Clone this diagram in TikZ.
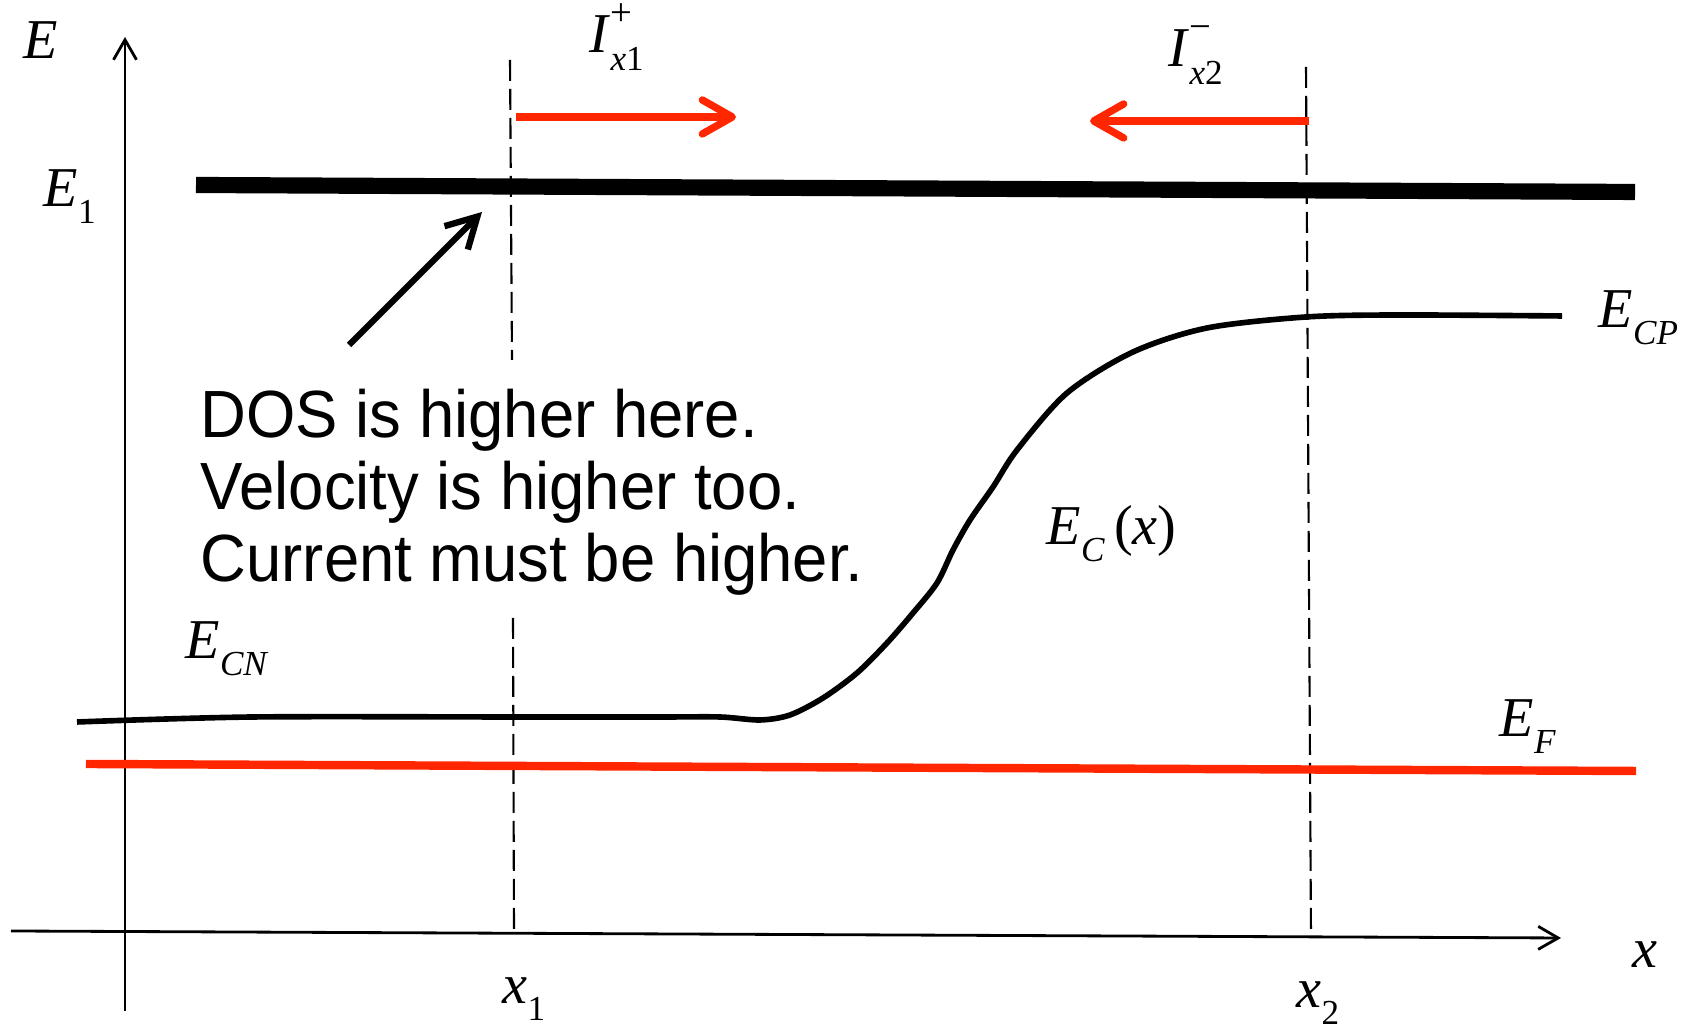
\documentclass[tikz,border=0pt]{standalone}
\usepackage{fontspec}
\setmainfont{Liberation Serif}
\setsansfont{Liberation Sans}
\newfontfamily\notefont[FakeStretch=0.95]{Liberation Sans}
\usepackage{tikz}
\usetikzlibrary{arrows.meta}
\definecolor{fluxred}{RGB}{255,38,0}
\newcommand{\lvl}[2]{\textit{#1}\raisebox{-0.17cm}{\fontsize{10}{10}\selectfont\textit{#2}}}
\newcommand{\flux}[3]{\textit{#1}\rlap{\raisebox{0.27cm}{\fontsize{11}{11}\selectfont #2}}\raisebox{-0.18cm}{\fontsize{10}{10}\selectfont\textit{#3}}}

\begin{document}
\begin{tikzpicture}[
  axisline/.style={line width=0.8pt,-{Straight Barb[length=2mm,width=2.3mm]}},
  guide/.style={line width=0.6pt,dash pattern=on 0.21cm off 0.08cm},
  fluxarrow/.style={fluxred,line width=2.1pt,-{Straight Barb[length=3mm,width=3.4mm,round]}},
  lbl/.style={inner sep=0pt,anchor=base west,font=\fontsize{16}{16}\selectfont},
  dosline/.style={inner sep=0pt,anchor=base west,font=\notefont\fontsize{19}{21}\selectfont}]
\useasboundingbox (0,0) rectangle (16.86,10.29);
% axes
\coordinate (Ebot) at (1.25,0.18);
\coordinate (Etop) at (1.25,9.92);
\coordinate (xleft) at (0.11,0.98);
\coordinate (xright) at (15.61,0.91);
\draw[axisline] (Ebot) -- (Etop);
\draw[axisline] (xleft) -- (xright);
% dashed guides at x1 and x2
\coordinate (g1top) at (5.10,9.69);
\coordinate (g1mid) at (5.12,6.69);
\coordinate (g1low) at (5.13,4.11);
\coordinate (g1bot) at (5.14,0.96);
\coordinate (g2top) at (13.06,9.62);
\coordinate (g2bot) at (13.11,0.91);
\draw[guide] (g1top) -- (g1mid) (g1low) -- (g1bot);
\draw[guide] (g2top) -- (g2bot);
% E1 level and Fermi level
\coordinate (e1left) at (1.96,8.44);
\coordinate (e1right) at (16.35,8.37);
\draw[line width=4.6pt] (e1left) -- (e1right);
\coordinate (efleft) at (0.86,2.65);
\coordinate (efright) at (16.36,2.58);
\draw[fluxred,line width=2.4pt] (efleft) -- (efright);
% conduction band edge
\draw[line width=1.6pt] plot[smooth] coordinates {(0.77,3.07) (2.53,3.12) (5.14,3.12) (6.60,3.12) (7.20,3.12) (7.60,3.09) (7.90,3.14) (8.23,3.31) (8.57,3.56) (8.87,3.86) (9.13,4.16) (9.37,4.46) (9.53,4.79) (9.70,5.09) (9.93,5.42) (10.17,5.79) (10.67,6.36) (11.33,6.77) (12.07,7.01) (13.06,7.12) (14.00,7.14) (15.62,7.13)};
% currents
\coordinate (ipstart) at (5.16,9.12);
\coordinate (ipend) at (7.36,9.12);
\coordinate (imstart) at (13.09,9.08);
\coordinate (imend) at (10.90,9.08);
\draw[fluxarrow] (ipstart) -- (ipend);
\draw[fluxarrow] (imstart) -- (imend);
% labels
\node[lbl] (Elbl) at (0.23,9.70) {\textit{E}};
\node[lbl] (E1lbl) at (0.43,8.22) {\lvl{E}{\textup{1}}};
\node[lbl] (ECPlbl) at (15.98,7.01) {\lvl{E}{CP}};
\node[lbl] (ECxlbl) at (10.46,4.84) {\lvl{E}{C}\,(\textit{x})};
\node[lbl] (ECNlbl) at (1.85,3.70) {\lvl{E}{CN}};
\node[lbl] (EFlbl) at (14.99,2.92) {\lvl{E}{F}};
\node[lbl] (xlbl) at (16.32,0.61) {\textit{x}};
\node[lbl] (x1lbl) at (5.02,0.25) {\lvl{x}{\textup{1}}};
\node[lbl] (x2lbl) at (12.96,0.21) {\lvl{x}{\textup{2}}};
\node[lbl] (Iplbl) at (5.89,9.76) {\flux{I}{+}{x\textup{1}}};
\node[lbl] (Imlbl) at (11.68,9.62) {\flux{I}{−}{x\textup{2}}};
% note
\foreach \n/\y/\t in {1/5.91/DOS is higher here.,2/5.19/Velocity is higher too.,3/4.47/Current must be higher.}{
\node[dosline] (dos\n) at (2.00,\y) {\t};
}
\coordinate (dostail) at (3.49,6.84);
\coordinate (doshead) at (4.82,8.17);
\draw[line width=1.8pt,-{Straight Barb[length=3mm,width=3.3mm]}] (dostail) -- (doshead);
\end{tikzpicture}
\end{document}
